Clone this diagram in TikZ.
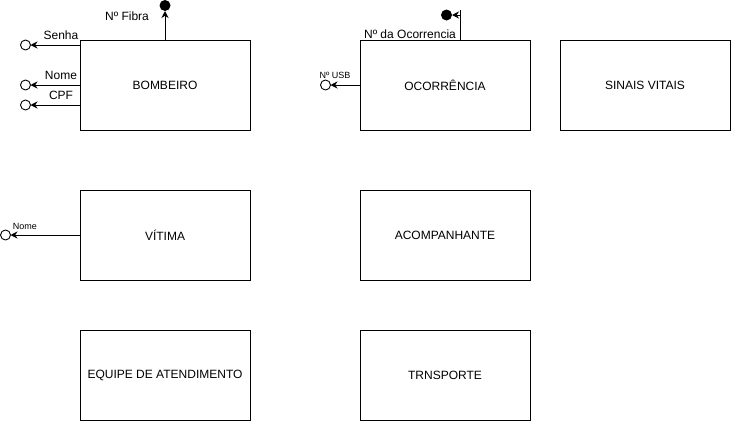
\documentclass[tikz,border=0pt]{standalone}
\usepackage{fontspec}
\setmainfont{Liberation Sans}
\usetikzlibrary{arrows.meta}
\begin{document}
\begin{tikzpicture}[x=1pt,y=-1pt,
  ent/.style={draw,line width=0.9pt,minimum width=170pt,minimum height=90pt,inner sep=0pt,outer sep=0pt,font=\fontsize{12}{14}\selectfont},
  attr/.style={draw,circle,line width=0.9pt,minimum size=10pt,inner sep=0pt,outer sep=0pt},
  keyattr/.style={fill,circle,minimum size=11pt,inner sep=0pt,outer sep=0pt},
  arr/.style={line width=0.9pt,-{Stealth[length=7pt,width=7pt]}},
  conn/.style={line width=0.9pt},
  lbl/.style={font=\fontsize{12}{14}\selectfont,inner sep=0pt},
  small/.style={font=\fontsize{9}{10}\selectfont,inner sep=0pt}]
\useasboundingbox (0,0) rectangle (731,421);
% entities
\node[ent] (bomb) at (165,85) {BOMBEIRO};
\node[ent] (ocor) at (445,85) {OCORRÊNCIA};
\node[ent] (sinais) at (645,85) {SINAIS VITAIS};
\node[ent] (vitima) at (165,235) {VÍTIMA};
\node[ent] (acomp) at (445,235) {ACOMPANHANTE};
\node[ent] (equipe) at (165,375) {EQUIPE DE ATENDIMENTO};
\node[ent] (trans) at (445,375) {TRNSPORTE};
% BOMBEIRO attributes
\node[attr] (senhaC) at (25.5,45) {};
\node[attr] (nomeC) at (25.5,85) {};
\node[attr] (cpfC) at (25.5,105) {};
\node[keyattr] (fibraC) at (165,5.5) {};
\draw[arr] (bomb.west |- senhaC) -- (senhaC);
\draw[arr] (bomb.west |- nomeC) -- (nomeC);
\draw[arr] (bomb.west |- cpfC) -- (cpfC);
\draw[arr] (bomb.north -| fibraC) -- (fibraC);
\node[lbl] (senhaL) at (61,35) {Senha};
\node[lbl] (nomeL) at (61,75) {Nome};
\node[lbl] (cpfL) at (61,95) {CPF};
\node[lbl] (fibraL) at (127,16) {Nº Fibra};
% OCORRENCIA attributes
\node[keyattr] (ockey) at (446.5,15) {};
\coordinate (oc1) at (460,10);
\draw[conn] (ocor.north -| oc1) -- (oc1);
\draw[arr] (oc1 |- ockey) -- (ockey);
\node[lbl] (ocL) at (410,34.5) {Nº da Ocorrencia};
\node[attr] (usbC) at (325.5,85) {};
\draw[arr] (ocor.west |- usbC) -- (usbC);
\node[small] (usbL) at (335,75) {Nº USB};
% VITIMA attributes
\node[attr] (vnomeC) at (5.5,235) {};
\draw[arr] (vitima.west |- vnomeC) -- (vnomeC);
\node[small] (vnomeL) at (25,226) {Nome};
\end{tikzpicture}
\end{document}
